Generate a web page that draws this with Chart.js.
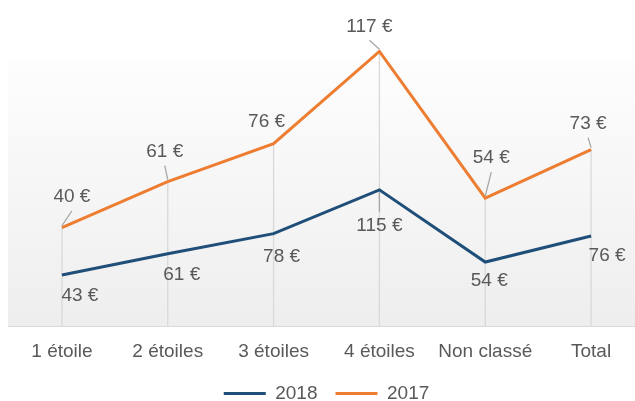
<!DOCTYPE html>
<html>
<head>
<meta charset="utf-8">
<script src="https://cdn.jsdelivr.net/npm/chart.js@4/dist/chart.umd.min.js"></script>
<style>
  html, body { margin: 0; padding: 0; background: #fff; }
  #wrap { width: 635px; height: 401px; overflow: hidden; position: relative; }
  #box { width: 645px; height: 413px; position: absolute; left: 0; top: 0; }
</style>
</head>
<body>
<div id="wrap"><div id="box"><canvas id="mycanvas"></canvas></div></div>
<script>
var categories = ['1 étoile', '2 étoiles', '3 étoiles', '4 étoiles', 'Non classé', 'Total'];
var values2018 = [43, 61, 78, 115, 54, 76];
var values2017 = [40, 61, 76, 117, 54, 73];

// where each value label sits, relative to its point (dx, dy, leader line?)
var labelPos2018 = [[18, 21, 0], [14, 21, 0], [8, 23, 0], [0, 36, 1], [4, 19, 0], [16, 20, 0]];
var labelPos2017 = [[10, -31, 1], [-3, -30, 1], [-7, -22, 0], [-10, -25, 1], [6, -40, 1], [-3, -26, 1]];

var textColor = '#595959';
var font = "'Liberation Sans', Arial, sans-serif";

// plot area fill + drop lines from the top line to the axis
var backdrop = {
    id: 'backdrop',
    beforeDatasetsDraw: function(chart) {
        var ctx = chart.ctx, a = chart.chartArea;
        ctx.save();
        var g = ctx.createLinearGradient(0, a.top, 0, a.bottom);
        g.addColorStop(0, '#fdfdfd');
        g.addColorStop(1, '#eeeeee');
        ctx.fillStyle = g;
        ctx.fillRect(a.left - 1, a.top, a.right - a.left + 1, a.bottom - a.top);

        var top = chart.getDatasetMeta(1).data;
        ctx.strokeStyle = '#d9d9d9';
        ctx.lineWidth = 1.3;
        for (var i = 0; i < top.length; i++) {
            ctx.beginPath();
            ctx.moveTo(top[i].x, top[i].y);
            ctx.lineTo(top[i].x, a.bottom);
            ctx.stroke();
        }
        ctx.restore();
    }
};

var valueLabels = {
    id: 'valueLabels',
    afterDatasetsDraw: function(chart) {
        var ctx = chart.ctx;
        var sets = [[values2018, labelPos2018], [values2017, labelPos2017]];
        ctx.save();
        ctx.font = '19px ' + font;
        ctx.textAlign = 'center';
        ctx.textBaseline = 'middle';
        for (var d = 0; d < 2; d++) {
            var pts = chart.getDatasetMeta(d).data;
            for (var i = 0; i < pts.length; i++) {
                var p = sets[d][1][i];
                var cx = pts[i].x + p[0], cy = pts[i].y + p[1];
                if (p[2]) {
                    var dir = p[1] < 0 ? 1 : -1;
                    ctx.strokeStyle = '#a6a6a6';
                    ctx.lineWidth = 1.3;
                    ctx.beginPath();
                    ctx.moveTo(cx, cy + dir * 14);
                    ctx.lineTo(pts[i].x, pts[i].y - dir * 2);
                    ctx.stroke();
                }
                ctx.fillStyle = textColor;
                ctx.fillText(sets[d][0][i] + ' €', cx, cy);
            }
        }
        ctx.restore();
    }
};

Chart.defaults.font.family = font;
Chart.defaults.font.size = 19;
Chart.defaults.color = textColor;

var myChart = new Chart(document.getElementById('mycanvas'), {
    type: 'line',
    data: {
        labels: categories,
        datasets: [{
            label: '2018',
            data: values2018,
            borderColor: '#1f4e79',
            backgroundColor: '#1f4e79',
            borderWidth: 3,
            pointRadius: 0,
            tension: 0,
            clip: false
        }, {
            label: '2017',
            data: values2017,
            borderColor: '#ed7d31',
            backgroundColor: '#ed7d31',
            borderWidth: 3,
            pointRadius: 0,
            tension: 0,
            clip: false
        }]
    },
    options: {
        responsive: true,
        maintainAspectRatio: false,
        animation: false,
        layout: { padding: { top: 62, left: 9, right: 1, bottom: 0 } },
        scales: {
            x: {
                offset: true,
                grid: { display: false, drawTicks: false },
                border: { color: '#d9d9d9', width: 2 },
                ticks: { color: textColor, padding: 14, maxRotation: 0 },
                afterFit: function(scale) { scale.height = 40; }
            },
            y: {
                display: false,
                stacked: true,
                min: 0,
                max: 223
            }
        },
        plugins: {
            tooltip: { enabled: false },
            legend: {
                position: 'bottom',
                labels: {
                    usePointStyle: true,
                    pointStyle: 'line',
                    pointStyleWidth: 42,
                    padding: 18,
                    color: textColor
                }
            }
        }
    },
    plugins: [backdrop, valueLabels]
});
</script>
</body>
</html>
